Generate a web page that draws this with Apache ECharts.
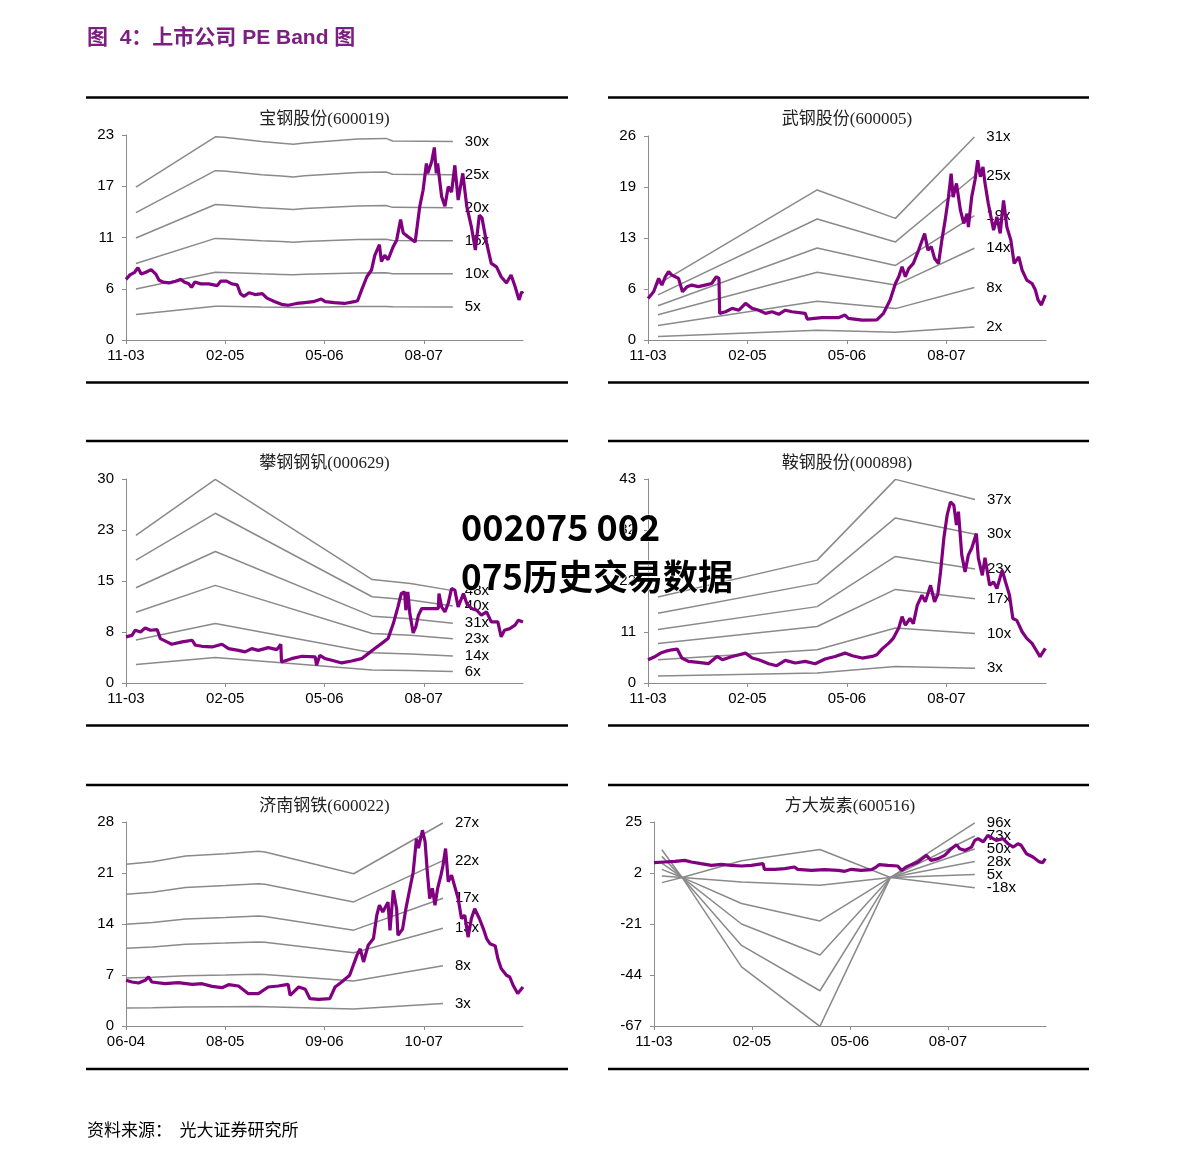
<!DOCTYPE html>
<html><head><meta charset="utf-8">
<script src="https://cdn.jsdelivr.net/npm/echarts/dist/echarts.min.js"></script>
<style>html,body{margin:0;padding:0;background:#fff}#c{width:1191px;height:1160px}</style>
</head><body><div id="c"></div>
<script>
// ---------- DATA ----------
// x in months from first tick; ticks every 15 months
const xTickValues = [0, 15, 30, 45];
const xLabelsMain = ['11-03', '02-05', '05-06', '08-07'];
const xLabelsJinan = ['06-04', '08-05', '09-06', '10-07'];

// 宝钢股份
const baoYTicks = [0, 5.75, 11.5, 17.25, 23];
const baoYLabels = ['0', '6', '11', '17', '23'];
const baoMultiples = [30, 25, 20, 15, 10, 5];
const baoEpsX = [1.5, 13.5, 14.8, 20.5, 23.5, 25.3, 27.0, 35.0, 39.3, 40.3, 49.4];
const baoEps = [0.572, 0.760, 0.758, 0.742, 0.736, 0.732, 0.737, 0.752, 0.754, 0.744, 0.742];
const baoPrice = [[0,6.8],[0.6,7.3],[1.3,7.6],[1.8,8.1],[2.3,7.4],[3.0,7.6],[3.8,7.9],[4.5,7.4],[5.0,6.7],[5.6,6.5],[6.5,6.4],[7.5,6.6],[8.3,6.8],[8.8,6.5],[9.5,6.3],[9.9,5.9],[10.4,6.5],[11.3,6.3],[12.5,6.3],[13.8,6.1],[14.3,6.6],[15.2,6.6],[16.0,6.3],[16.8,6.2],[17.3,5.2],[17.8,4.9],[18.6,5.3],[19.5,5.1],[20.6,5.2],[21.3,4.7],[22.5,4.3],[23.5,4.0],[24.5,3.9],[25.8,4.1],[27.0,4.2],[28.3,4.3],[29.5,4.6],[30.1,4.3],[31.5,4.2],[33.0,4.1],[34.5,4.3],[35.0,4.4],[35.6,5.6],[36.4,7.1],[37.1,7.85],[37.6,9.5],[38.3,10.7],[38.6,8.8],[39.1,9.5],[39.6,9.0],[40.4,10.5],[40.9,11.2],[41.5,13.5],[41.9,12.0],[42.6,11.6],[43.7,11.0],[44.0,12.7],[44.4,15.0],[44.9,16.8],[45.4,19.8],[45.6,18.7],[46.2,20.0],[46.6,21.6],[46.9,18.7],[47.1,19.8],[47.7,16.1],[48.2,15.0],[48.7,17.2],[49.2,16.6],[49.7,19.6],[50.2,15.7],[50.9,18.7],[51.5,15.0],[52.2,12.7],[52.8,10.1],[53.4,14.0],[53.8,13.7],[54.5,10.9],[55.2,8.6],[56.0,8.2],[56.7,7.1],[57.5,6.4],[58.2,7.3],[58.8,6.0],[59.4,4.5],[59.8,5.4],[60.0,5.2]];

// 武钢股份
const wuYTicks = [0, 6.5, 13, 19.5, 26];
const wuYLabels = ['0', '6', '13', '19', '26'];
const wuMultiples = [31, 25, 19, 14, 8, 2];
const wuEpsX = [1.5, 25.5, 37.3, 49.2];
const wuEps = [0.23, 0.617, 0.50, 0.835];
const wuPrice = [[0,5.3],[0.85,6.15],[1.6,7.85],[2.1,7.0],[2.6,8.06],[3.1,8.7],[3.6,8.27],[4.1,8.06],[4.6,7.85],[5.2,6.15],[5.9,6.8],[6.6,7.0],[7.6,6.8],[8.6,7.0],[9.6,7.2],[10.3,8.06],[10.7,7.85],[10.8,3.39],[11.7,3.6],[12.7,4.03],[13.7,3.8],[14.7,4.67],[15.7,4.03],[16.7,3.8],[17.7,3.4],[18.7,3.6],[19.7,3.27],[20.7,3.8],[21.7,3.6],[23.7,3.4],[24.0,2.67],[26.2,2.84],[28.7,2.84],[29.7,3.18],[30.2,2.76],[32.3,2.54],[34.5,2.55],[35.5,3.4],[36.5,5.1],[37.3,7.2],[37.8,8.06],[38.3,9.33],[38.8,8.06],[39.3,9.1],[40.0,9.76],[40.8,11.46],[41.7,13.58],[42.2,11.46],[42.7,11.9],[43.2,10.4],[43.8,9.76],[44.3,12.73],[44.8,15.28],[45.3,18.24],[45.7,21.2],[46.0,18.2],[46.5,19.95],[47.1,16.55],[47.6,14.85],[48.1,16.1],[48.3,14.4],[48.8,18.24],[49.3,20.4],[49.7,22.9],[50.1,20.8],[50.5,22.06],[50.8,20.0],[51.3,17.4],[52.1,14.0],[52.6,15.7],[53.1,13.58],[53.6,17.8],[54.1,14.4],[54.7,12.73],[55.2,9.76],[55.9,10.6],[56.4,8.9],[57.1,7.64],[57.9,7.2],[58.4,6.37],[58.8,5.1],[59.3,4.46],[59.9,5.73]];

// 攀钢钢钒
const panYTicks = [0, 7.5, 15, 22.5, 30];
const panYLabels = ['0', '8', '15', '23', '30'];
const panMultiples = [48, 40, 31, 23, 14, 6];
const panEpsX = [1.5, 13.5, 37.2, 43.0, 49.4];
const panEps = [0.452, 0.624, 0.317, 0.305, 0.283];
const panPrice = [[0,6.78],[0.9,7.0],[1.4,7.76],[2.2,7.5],[2.9,8.1],[3.7,7.76],[4.7,7.86],[5.2,6.53],[6.2,6.04],[6.9,5.7],[8.5,6.04],[10.0,6.28],[10.5,5.55],[11.5,5.4],[13.0,5.3],[14.5,5.7],[15.5,5.06],[17.0,4.8],[18.0,4.57],[19.0,5.06],[20.0,4.8],[21.5,5.2],[22.8,4.9],[23.4,5.7],[23.5,3.1],[25.0,3.58],[26.6,3.93],[28.6,3.83],[28.8,2.6],[29.3,4.07],[30.1,3.58],[31.1,3.34],[32.6,2.95],[34.1,3.24],[35.6,3.58],[36.6,4.32],[37.6,5.06],[38.6,5.79],[39.6,6.53],[40.4,8.74],[41.1,11.2],[41.6,13.16],[42.1,13.4],[42.3,10.7],[42.6,13.4],[42.9,10.2],[43.4,7.37],[43.8,8.25],[44.2,9.97],[44.7,10.95],[47.2,10.95],[47.3,13.16],[47.7,11.2],[48.2,10.46],[48.7,11.7],[49.2,13.9],[49.7,13.65],[50.2,11.2],[51.0,13.16],[51.5,11.7],[52.2,10.95],[53.0,10.7],[53.7,9.97],[54.5,10.46],[55.2,8.98],[56.2,8.98],[56.7,6.78],[57.2,7.76],[58.0,8.0],[58.8,8.5],[59.3,9.23],[60.0,8.98]];

// 鞍钢股份
const anYTicks = [0, 10.75, 21.5, 32.25, 43];
const anYLabels = ['0', '11', '22', '32', '43'];
const anMultiples = [37, 30, 23, 17, 10, 3];
const anEpsX = [1.5, 25.5, 37.3, 49.3];
const anEps = [0.49, 0.70, 1.16, 1.045];
const anPrice = [[0,4.91],[1.1,5.6],[1.9,6.3],[2.6,6.66],[3.6,7.0],[4.4,7.15],[5.1,5.26],[6.1,4.56],[7.6,4.35],[9.1,4.07],[10.4,5.6],[11.2,4.91],[12.7,5.6],[14.7,6.3],[15.7,5.26],[16.7,4.91],[18.2,4.07],[19.4,3.65],[20.7,4.77],[22.2,4.21],[23.7,4.56],[25.2,4.07],[26.7,5.05],[28.2,5.6],[29.7,6.3],[30.8,5.75],[32.3,5.26],[33.8,5.6],[34.5,5.96],[35.3,7.2],[36.3,8.4],[37.0,9.47],[37.8,11.58],[38.3,14.0],[38.8,12.2],[39.5,13.6],[40.0,12.5],[40.6,16.4],[41.3,18.5],[41.8,17.1],[42.6,20.6],[43.2,17.1],[43.7,18.8],[44.1,23.4],[44.6,30.5],[45.1,35.4],[45.6,38.2],[46.1,37.5],[46.5,33.3],[46.8,36.1],[47.3,27.0],[47.8,23.4],[48.3,27.0],[48.8,28.4],[49.5,31.5],[49.8,26.3],[50.4,22.7],[50.8,26.4],[51.5,20.6],[52.1,21.3],[52.6,19.9],[53.4,23.8],[53.9,21.3],[54.5,18.5],[55.0,13.6],[55.6,13.2],[56.4,10.8],[57.1,9.4],[57.9,8.36],[58.5,6.96],[59.1,5.55],[59.9,7.3]];

// 济南钢铁
const jiYTicks = [0, 7, 14, 21, 28];
const jiYLabels = ['0', '7', '14', '21', '28'];
const jiMultiples = [27, 22, 17, 13, 8, 3];
const jiEpsX = [0, 4, 9, 15, 20, 21, 34.4, 47.9];
const jiEps = [0.822, 0.835, 0.864, 0.876, 0.888, 0.885, 0.774, 1.032];
const jiPrice = [[0,6.27],[0.9,6.04],[1.9,5.9],[2.9,6.27],[3.4,6.73],[3.9,6.04],[5.9,5.81],[7.9,5.95],[10.0,5.72],[11.5,5.81],[13.0,5.44],[14.5,5.26],[15.5,5.67],[17.0,5.49],[18.5,4.44],[20.0,4.44],[21.5,5.35],[23.0,5.49],[24.5,5.72],[24.8,4.21],[26.1,5.35],[27.1,5.03],[27.8,3.75],[29.1,3.66],[30.8,3.76],[31.6,5.35],[32.6,6.04],[33.8,6.96],[34.9,9.7],[35.4,10.6],[35.9,8.79],[36.6,11.08],[37.4,12.0],[37.9,15.2],[38.3,16.57],[38.8,15.65],[39.6,17.0],[39.9,13.14],[40.4,18.63],[40.9,16.1],[41.1,12.45],[41.8,13.3],[42.3,16.1],[42.9,18.86],[43.4,21.1],[43.9,25.7],[44.2,24.4],[44.8,26.87],[45.2,25.3],[45.5,21.6],[45.9,17.5],[46.3,18.9],[46.7,16.57],[47.1,18.9],[47.6,20.7],[47.9,22.0],[48.3,24.36],[48.7,19.8],[49.2,20.7],[49.7,19.1],[50.2,17.5],[50.7,14.75],[51.2,15.2],[51.7,12.2],[52.2,14.75],[52.7,16.1],[53.4,14.75],[54.0,13.37],[54.5,12.0],[55.0,11.3],[55.8,11.0],[56.2,9.25],[56.7,7.88],[57.5,6.96],[58.0,6.73],[58.5,5.59],[59.2,4.45],[60.0,5.36]];

// 方大炭素
const fangYTicks = [-67, -44, -21, 2, 25];
const fangYLabels = ['-67', '-44', '-21', '2', '25'];
const fangMultiples = [96, 73, 50, 28, 5, -18];
const fangEpsX = [1.2, 4.3, 13.4, 25.4, 36.2, 49.1];
const fangEps = [0.13, 0.0, -0.42, -0.70, 0.0, 0.256];
const fangPrice = [[0,6.66],[1.6,6.96],[3.2,7.26],[4.7,7.71],[5.7,6.96],[7.2,6.2],[8.8,5.46],[10.3,5.9],[11.8,5.46],[13.4,5.16],[14.9,5.46],[16.7,6.2],[16.9,3.65],[18.5,3.65],[20.0,3.95],[21.5,4.7],[22.0,3.65],[24.1,3.2],[26.1,3.5],[28.2,3.2],[29.2,2.75],[30.2,3.65],[31.7,3.2],[33.3,3.5],[34.0,4.7],[34.5,5.76],[35.8,5.46],[37.3,5.16],[37.9,3.2],[38.6,4.7],[39.4,5.76],[40.4,6.96],[41.7,9.97],[42.4,7.71],[43.5,8.46],[44.5,9.97],[45.5,12.97],[46.3,14.78],[46.8,12.97],[47.6,12.2],[48.6,13.7],[49.1,16.7],[49.6,17.5],[50.4,16.0],[51.1,19.0],[51.9,17.5],[52.4,16.7],[53.4,17.5],[54.2,15.2],[55.0,13.7],[55.7,15.2],[56.2,14.5],[57.0,10.7],[58.0,9.2],[59.0,7.0],[59.5,6.66],[59.9,8.46]];

// ---------- LAYOUT ----------
const panels = [
  {title:'宝钢股份(600019)', price:baoPrice, epsX:baoEpsX, eps:baoEps, mult:baoMultiples, yT:baoYTicks, yL:baoYLabels, xL:xLabelsMain, grid:{left:126,top:135,width:397,height:205}, rx:[86,568], ry:[97.5,382.5], ty:120},
  {title:'武钢股份(600005)', price:wuPrice, epsX:wuEpsX, eps:wuEps, mult:wuMultiples, yT:wuYTicks, yL:wuYLabels, xL:xLabelsMain, grid:{left:648,top:136,width:398,height:204}, rx:[608,1089], ry:[97.5,382.5], ty:120},
  {title:'攀钢钢钒(000629)', price:panPrice, epsX:panEpsX, eps:panEps, mult:panMultiples, yT:panYTicks, yL:panYLabels, xL:xLabelsMain, grid:{left:126,top:479,width:397,height:204}, rx:[86,568], ry:[441,725.5], ty:463.5},
  {title:'鞍钢股份(000898)', price:anPrice, epsX:anEpsX, eps:anEps, mult:anMultiples, yT:anYTicks, yL:anYLabels, xL:xLabelsMain, grid:{left:648,top:479,width:398,height:204}, rx:[608,1089], ry:[441,725.5], ty:463.5},
  {title:'济南钢铁(600022)', price:jiPrice, epsX:jiEpsX, eps:jiEps, mult:jiMultiples, yT:jiYTicks, yL:jiYLabels, xL:xLabelsJinan, grid:{left:126,top:822,width:397,height:204}, rx:[86,568], ry:[785,1069], ty:806.5},
  {title:'方大炭素(600516)', price:fangPrice, epsX:fangEpsX, eps:fangEps, mult:fangMultiples, yT:fangYTicks, yL:fangYLabels, xL:xLabelsMain, grid:{left:654,top:822,width:392,height:204}, rx:[608,1089], ry:[785,1069], ty:806.5}
];

const AXIS_GRAY = '#8c8c8c';
const BAND_GRAY = '#8a8a8a';
const PURPLE = '#800080';
const LABEL_FONT = '"Liberation Sans", Arial, sans-serif';

const grids = [], xAxes = [], yAxes = [], series = [], graphics = [];

function lookup(ticks, labels, v) {
  const i = ticks.findIndex(t => Math.abs(t - v) < 1e-6);
  return i >= 0 ? labels[i] : '';
}

panels.forEach((p, k) => {
  grids.push(Object.assign({containLabel:false}, p.grid));
  xAxes.push({
    type:'value', gridIndex:k, min:0, max:60,
    axisLine:{show:true, onZero:false, lineStyle:{color:AXIS_GRAY, width:1}},
    axisTick:{show:true, customValues:xTickValues, length:4, lineStyle:{color:AXIS_GRAY}},
    axisLabel:{customValues:xTickValues, color:'#000', fontSize:15, fontFamily:LABEL_FONT, margin:8,
      formatter:v => lookup(xTickValues, p.xL, v)},
    splitLine:{show:false}
  });
  yAxes.push({
    type:'value', gridIndex:k, min:p.yT[0], max:p.yT[p.yT.length-1],
    axisLine:{show:true, onZero:false, lineStyle:{color:AXIS_GRAY, width:1}},
    axisTick:{show:true, customValues:p.yT, length:4, lineStyle:{color:AXIS_GRAY}},
    axisLabel:{customValues:p.yT, color:'#000', fontSize:15, fontFamily:LABEL_FONT, margin:12,
      formatter:v => lookup(p.yT, p.yL, v)},
    splitLine:{show:false}
  });
  // PE bands: multiple x EPS
  p.mult.forEach(m => {
    series.push({
      type:'line', xAxisIndex:k, yAxisIndex:k, silent:true, showSymbol:false, symbol:'none',
      data:p.epsX.map((x, i) => [x, +(p.eps[i] * m).toFixed(3)]),
      lineStyle:{color:BAND_GRAY, width:1.5}, z:2,
      endLabel:{show:true, formatter:m + 'x', distance:12, color:'#000', fontSize:15, fontFamily:LABEL_FONT}
    });
  });
  series.push({
    type:'line', xAxisIndex:k, yAxisIndex:k, silent:true, showSymbol:false, symbol:'none',
    data:p.price, lineStyle:{color:PURPLE, width:3.2}, z:3
  });
  // rules & titles
  graphics.push({type:'line', shape:{x1:p.rx[0], y1:p.ry[0], x2:p.rx[1], y2:p.ry[0]}, style:{stroke:'#000', lineWidth:2.5}});
  graphics.push({type:'line', shape:{x1:p.rx[0], y1:p.ry[1], x2:p.rx[1], y2:p.ry[1]}, style:{stroke:'#000', lineWidth:2.5}});
  graphics.push({type:'text', x:p.grid.left + p.grid.width/2, y:p.ty,
    style:{text:p.title, align:'center', verticalAlign:'middle', fill:'#222',
      font:'17px "Liberation Serif", "Noto Sans CJK SC", serif'}});
});

graphics.push({type:'text', x:87, y:38, style:{text:'图  4：上市公司 PE Band 图', align:'left', verticalAlign:'middle',
  fill:'#7b1f80', font:'bold 21px "Liberation Sans", "Noto Sans CJK SC", sans-serif'}});
graphics.push({type:'text', x:87, y:1130, style:{text:'资料来源：  光大证券研究所', align:'left', verticalAlign:'middle',
  fill:'#000', font:'17px "Noto Sans CJK SC", serif'}});
graphics.push({type:'text', x:461, y:527, z:100, style:{text:'002075 002', align:'left', verticalAlign:'middle',
  fill:'#000', font:'bold 36px "Noto Sans CJK SC", sans-serif', stroke:'#fff', lineWidth:1}});
graphics.push({type:'text', x:461, y:577, z:100, style:{text:'075历史交易数据', align:'left', verticalAlign:'middle',
  fill:'#000', font:'bold 35px "Noto Sans CJK SC", sans-serif', stroke:'#fff', lineWidth:1}});

const chart = echarts.init(document.getElementById('c'), null, {renderer:'canvas'});
chart.setOption({
  animation:false, backgroundColor:'#fff',
  grid:grids, xAxis:xAxes, yAxis:yAxes, series:series, graphic:graphics
});
</script></body></html>
